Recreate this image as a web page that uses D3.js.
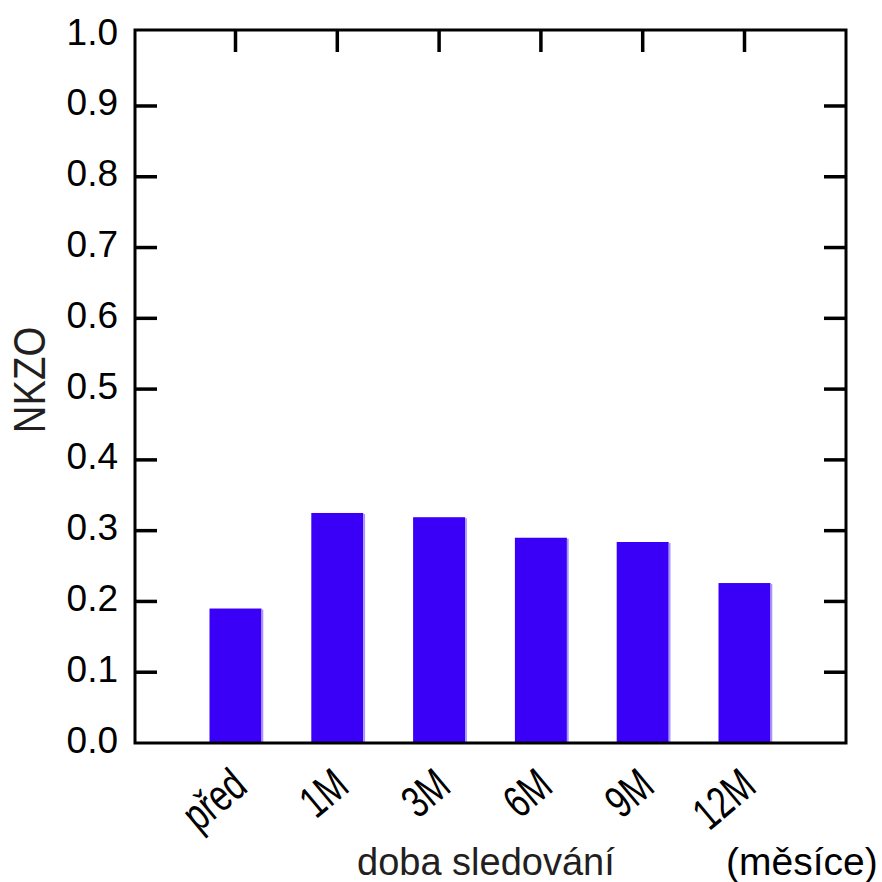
<!DOCTYPE html>
<html>
<head>
<meta charset="utf-8">
<script src="https://cdn.jsdelivr.net/npm/d3@7"></script>
<style>
  html, body { margin: 0; padding: 0; background: #fff; }
  svg { display: block; font-family: "Liberation Sans", Arial, sans-serif; }
</style>
</head>
<body>
<div id="chart"></div>
<script>
const categories = ["před", "1M", "3M", "6M", "9M", "12M"];
const values = [0.190, 0.325, 0.319, 0.290, 0.284, 0.226];
const yTicks = [0, 0.1, 0.2, 0.3, 0.4, 0.5, 0.6, 0.7, 0.8, 0.9, 1.0];

const width = 882, height = 882;
const frame = { left: 135, right: 846, top: 30, bottom: 743 };
const barW = 52;

const svg = d3.select("#chart")
  .append("svg")
  .attr("width", width)
  .attr("height", height);

const x = d3.scalePoint()
  .domain(categories)
  .range([235.5, 744.5]);

const y = d3.scaleLinear()
  .domain([0, 1])
  .range([frame.bottom, 35.2]);

// bars
const bars = svg.append("g");
bars.selectAll("rect.bar")
  .data(values)
  .join("rect")
  .attr("class", "bar")
  .attr("x", (d, i) => x(categories[i]) - barW / 2)
  .attr("y", (d) => y(d))
  .attr("width", barW)
  .attr("height", (d) => y(0) - y(d))
  .attr("fill", "#3a00f7");

bars.selectAll("rect.edge")
  .data(values)
  .join("rect")
  .attr("class", "edge")
  .attr("x", (d, i) => x(categories[i]) + barW / 2)
  .attr("y", (d) => y(d) + 1)
  .attr("width", 1.8)
  .attr("height", (d) => y(0) - y(d) - 1)
  .attr("fill", "#a893ff");

// frame
svg.append("rect")
  .attr("x", frame.left)
  .attr("y", frame.top)
  .attr("width", frame.right - frame.left)
  .attr("height", frame.bottom - frame.top)
  .attr("fill", "none")
  .attr("stroke", "#000")
  .attr("stroke-width", 3);

// y ticks, left and right, pointing inward
const tickLen = 22;
svg.append("g")
  .selectAll("line")
  .data(yTicks.slice(1, -1))
  .join("line")
  .attr("x1", frame.left)
  .attr("x2", frame.left + tickLen)
  .attr("y1", (d) => y(d))
  .attr("y2", (d) => y(d))
  .attr("stroke", "#000")
  .attr("stroke-width", 3.5);

svg.append("g")
  .selectAll("line")
  .data(yTicks.slice(1, -1))
  .join("line")
  .attr("x1", frame.right)
  .attr("x2", frame.right - tickLen)
  .attr("y1", (d) => y(d))
  .attr("y2", (d) => y(d))
  .attr("stroke", "#000")
  .attr("stroke-width", 3.5);

// top ticks at category centres
svg.append("g")
  .selectAll("line")
  .data(categories)
  .join("line")
  .attr("x1", (d) => x(d))
  .attr("x2", (d) => x(d))
  .attr("y1", frame.top)
  .attr("y2", frame.top + tickLen)
  .attr("stroke", "#000")
  .attr("stroke-width", 3.5);

// y tick labels
svg.append("g")
  .selectAll("text")
  .data(yTicks)
  .join("text")
  .attr("x", 118)
  .attr("y", (d) => y(d) + 9.5)
  .attr("text-anchor", "end")
  .style("font-size", "37px")
  .attr("fill", "#000")
  .text((d) => d.toFixed(1));

// x tick labels, rotated and condensed
svg.append("g")
  .selectAll("text")
  .data(categories)
  .join("text")
  .attr("transform", (d) => `translate(${x(d) + 14},790) rotate(-40) scale(0.74,1)`)
  .attr("text-anchor", "end")
  .style("font-size", "45px")
  .attr("fill", "#000")
  .text((d) => d);

// axis titles
svg.append("text")
  .attr("transform", "translate(45,380) rotate(-90) scale(0.87,1)")
  .attr("text-anchor", "middle")
  .style("font-size", "44px")
  .attr("fill", "#231f20")
  .text("NKZO");

svg.append("text")
  .attr("x", 357)
  .attr("y", 875)
  .style("font-size", "38px")
  .attr("fill", "#231f20")
  .text("doba sledování");

svg.append("text")
  .attr("x", 726)
  .attr("y", 875)
  .style("font-size", "39px")
  .attr("fill", "#000")
  .text("(měsíce)");
</script>
</body>
</html>
